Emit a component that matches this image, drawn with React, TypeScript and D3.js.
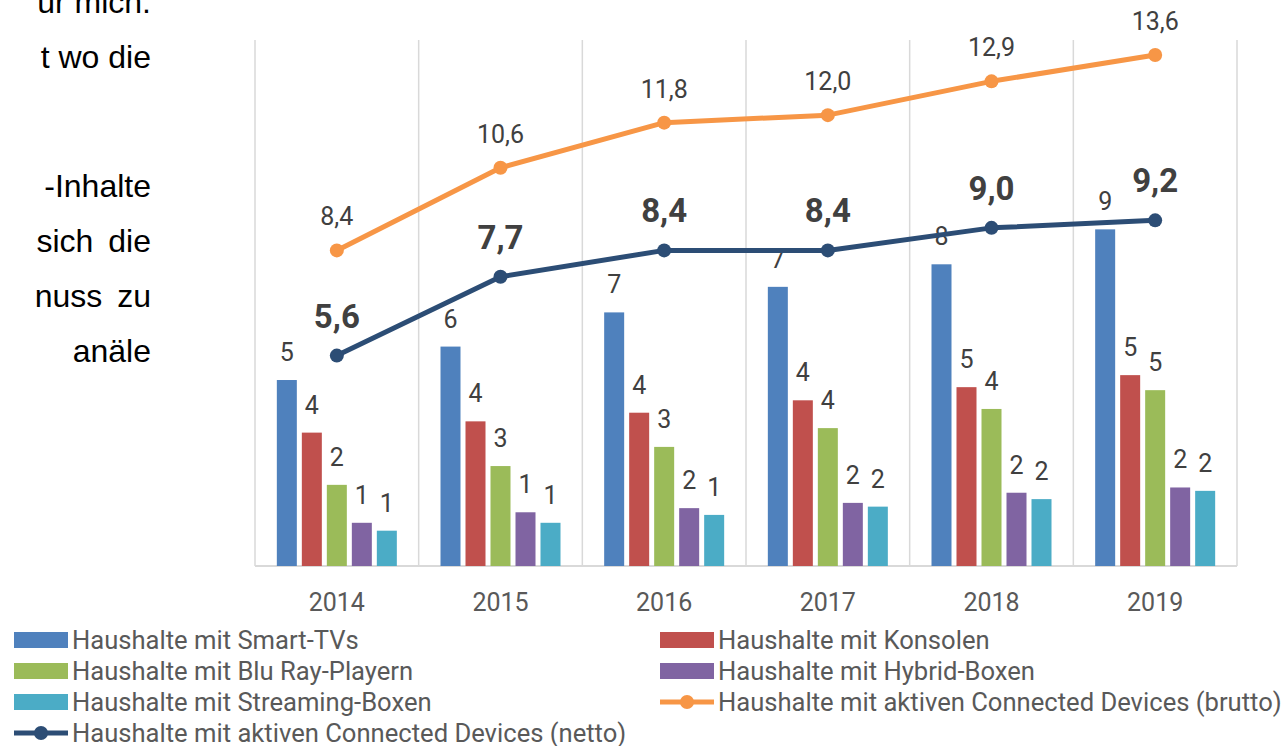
import React from "react";
import * as d3 from "d3";

// data
const years = ["2014", "2015", "2016", "2017", "2018", "2019"];
const smartTvs = [4.95, 5.84, 6.75, 7.43, 8.03, 8.96];
const konsolen = [3.55, 3.85, 4.08, 4.41, 4.76, 5.08];
const bluRay = [2.16, 2.66, 3.17, 3.67, 4.18, 4.68];
const hybrid = [1.15, 1.43, 1.54, 1.68, 1.95, 2.09];
const streaming = [0.94, 1.15, 1.36, 1.58, 1.78, 2.0];
const brutto = [8.4, 10.6, 11.8, 12.0, 12.9, 13.6];
const netto = [5.6, 7.7, 8.4, 8.4, 9.0, 9.2];

const barNames = [
  "Haushalte mit Smart-TVs",
  "Haushalte mit Konsolen",
  "Haushalte mit Blu Ray-Playern",
  "Haushalte mit Hybrid-Boxen",
  "Haushalte mit Streaming-Boxen",
];
const bruttoName = "Haushalte mit aktiven Connected Devices (brutto)";
const nettoName = "Haushalte mit aktiven Connected Devices (netto)";

// cut-off slide text on the left
const para1 = ["ur mich.", "t wo die"];
const para2 = ["-Inhalte", "sich die", "nuss zu", "anäle"];

const barColors = ["#4f81bd", "#c0504d", "#9bbb59", "#8064a2", "#4bacc6"];
const bruttoColor = "#f79646";
const nettoColor = "#2c4d75";
const FONT = "Roboto, 'Noto Sans', sans-serif";

const W = 1288;
const H = 746;
const plot = { left: 255, right: 1237, top: 40, bottom: 566 };

export default function App() {
  const barSeries = [smartTvs, konsolen, bluRay, hybrid, streaming];

  const x0 = d3.scaleBand<string>().domain(years).range([plot.left, plot.right]);
  const bw = x0.bandwidth();
  const x1 = d3
    .scaleBand<number>()
    .domain(d3.range(barSeries.length))
    .range([bw / 2 - 60, bw / 2 + 60])
    .paddingInner(0.2);
  const y = d3.scaleLinear().domain([0, 14]).range([plot.bottom, plot.top]);
  const cx = (yr: string) => (x0(yr) as number) + bw / 2;

  const line = d3
    .line<number>()
    .x((_, i) => cx(years[i]))
    .y((d) => y(d));

  const fmtBar = d3.format(".0f");
  const fmtLine = (v: number) => d3.format(".1f")(v).replace(".", ",");

  const gridX = [...years.map((yr) => x0(yr) as number), plot.right];

  const legendItems = [
    ...barNames.map((n, i) => ({ name: n, kind: "bar", color: barColors[i] })),
    { name: bruttoName, kind: "line", color: bruttoColor },
    { name: nettoName, kind: "line", color: nettoColor },
  ];

  return (
    <svg
      width={W}
      height={H}
      style={{ position: "absolute", left: 0, top: 0, background: "#fff", display: "block" }}
    >
      {/* slide text */}
      <g fontFamily="'Liberation Sans', Arial, sans-serif" fontSize={32} fill="#000" textAnchor="end">
        {para1.map((t, i) => (
          <text key={t} x={151} y={13 + i * 55}>{t}</text>
        ))}
        {para2.map((t, i) => (
          <text key={t} x={151} y={197 + i * 55} wordSpacing={i > 0 && i < 3 ? 6 : 0}>{t}</text>
        ))}
      </g>
      <text x={722} y={-6} fontFamily={FONT} fontSize={30} fill="#404040">,</text>

      {/* grid */}
      {gridX.map((gx, i) => (
        <line key={i} x1={gx} x2={gx} y1={plot.top} y2={plot.bottom} stroke="#d9d9d9" strokeWidth={1.5} />
      ))}
      <line x1={plot.left} x2={plot.right} y1={plot.bottom} y2={plot.bottom} stroke="#d9d9d9" strokeWidth={2} />

      {/* bars */}
      {barSeries.map((vals, s) => (
        <g key={s}>
          {vals.map((v, i) => {
            const bx = (x0(years[i]) as number) + (x1(s) as number);
            return (
              <g key={i}>
                <rect x={bx} y={y(v)} width={x1.bandwidth()} height={plot.bottom - y(v)} fill={barColors[s]} />
                <text
                  x={bx + x1.bandwidth() / 2}
                  y={y(v) - 19}
                  textAnchor="middle"
                  fontFamily={FONT}
                  fontSize={25}
                  fill="#404040"
                >
                  {fmtBar(v)}
                </text>
              </g>
            );
          })}
        </g>
      ))}

      {/* year labels */}
      {years.map((yr) => (
        <text key={yr} x={cx(yr)} y={611} textAnchor="middle" fontFamily={FONT} fontSize={25} fill="#595959">
          {yr}
        </text>
      ))}

      {/* brutto line */}
      <path d={line(brutto) as string} fill="none" stroke={bruttoColor} strokeWidth={5} strokeLinejoin="round" />
      {brutto.map((v, i) => (
        <g key={i}>
          <circle cx={cx(years[i])} cy={y(v)} r={7} fill={bruttoColor} />
          <text x={cx(years[i])} y={y(v) - 25} textAnchor="middle" fontFamily={FONT} fontSize={25} fill="#404040">
            {fmtLine(v)}
          </text>
        </g>
      ))}

      {/* netto line */}
      <path d={line(netto) as string} fill="none" stroke={nettoColor} strokeWidth={5} strokeLinejoin="round" />
      {netto.map((v, i) => (
        <g key={i}>
          <circle cx={cx(years[i])} cy={y(v)} r={7} fill={nettoColor} />
          <text
            x={cx(years[i])}
            y={y(v) - 28}
            textAnchor="middle"
            fontFamily={FONT}
            fontSize={33}
            fontWeight="bold"
            fill="#404040"
          >
            {fmtLine(v)}
          </text>
        </g>
      ))}

      {/* legend */}
      {legendItems.map((it, i) => {
        const lx = i % 2 === 0 ? 14 : 660;
        const ly = 640 + Math.floor(i / 2) * 31;
        return (
          <g key={it.name} transform={`translate(${lx},${ly})`}>
            {it.kind === "bar" ? (
              <rect x={0} y={-8} width={54} height={16} fill={it.color} />
            ) : (
              <g>
                <line x1={0} x2={54} y1={0} y2={0} stroke={it.color} strokeWidth={5} />
                <circle cx={27} cy={0} r={7} fill={it.color} />
              </g>
            )}
            <text x={58} y={9} fontFamily={FONT} fontSize={25.6} fill="#595959">
              {it.name}
            </text>
          </g>
        );
      })}
    </svg>
  );
}
